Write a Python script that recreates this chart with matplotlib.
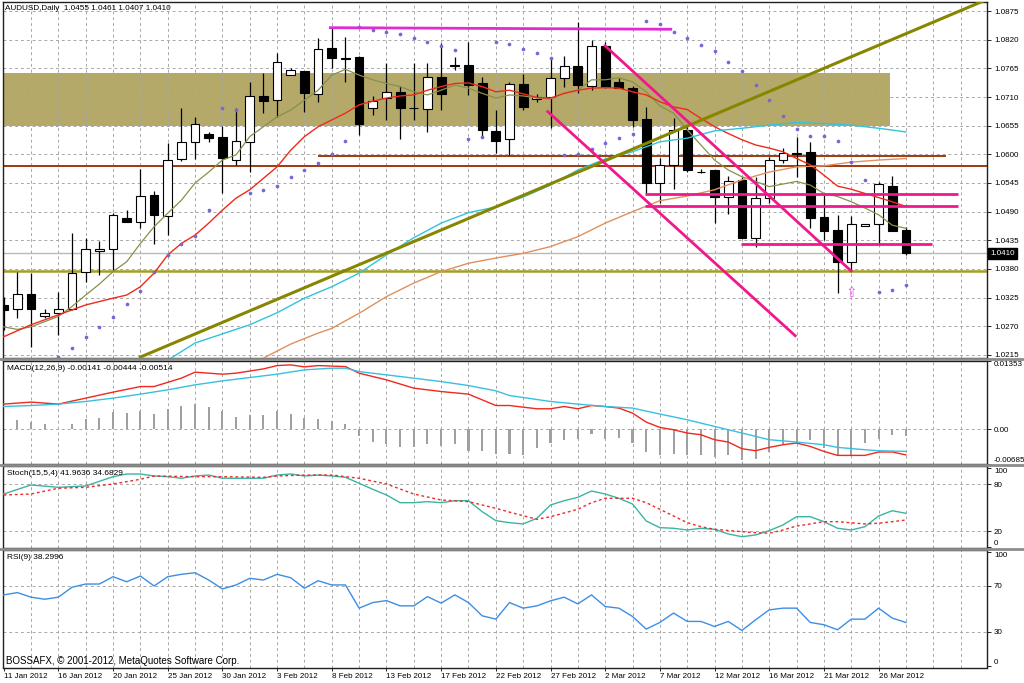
import matplotlib
matplotlib.use('Agg')
import matplotlib.pyplot as plt
import numpy as np
from matplotlib.patches import Rectangle
from matplotlib.lines import Line2D
import matplotlib.transforms as mtransforms

plt.rcParams['font.family'] = ['Liberation Sans', 'DejaVu Sans']
plt.rcParams['font.size'] = 5.8

# AUDUSD daily, 11 Jan - 28 Mar 2012 (broker with Sunday bars -> 67 bars)
opens = [1.0310, 1.0303, 1.0332, 1.0290, 1.0296, 1.0303, 1.0375, 1.0414, 1.0418, 1.0478,
         1.0470, 1.0522, 1.0482, 1.0591, 1.0623, 1.0639, 1.0633, 1.0589, 1.0624, 1.0711,
         1.0704, 1.0752, 1.0760, 1.0716, 1.0804, 1.0785, 1.0787, 1.0689, 1.0708, 1.0720,
         1.0689, 1.0687, 1.0749, 1.0771, 1.0771, 1.0736, 1.0645, 1.0629, 1.0735, 1.0706,
         1.0710, 1.0746, 1.0769, 1.0731, 1.0808, 1.0738, 1.0727, 1.0668, 1.0545, 1.0579,
         1.0647, 1.0567, 1.0570, 1.0518, 1.0551, 1.0440, 1.0516, 1.0589, 1.0602, 1.0604,
         1.0479, 1.0455, 1.0394, 1.0463, 1.0466, 1.0539, 1.0455]
highs = [1.0326, 1.0374, 1.0372, 1.0303, 1.0336, 1.0449, 1.0440, 1.0434, 1.0488, 1.0493,
         1.0571, 1.0530, 1.0622, 1.0688, 1.0671, 1.0643, 1.0654, 1.0688, 1.0739, 1.0757,
         1.0794, 1.0766, 1.0760, 1.0823, 1.0842, 1.0825, 1.0789, 1.0712, 1.0775, 1.0731,
         1.0775, 1.0775, 1.0813, 1.0787, 1.0816, 1.0749, 1.0685, 1.0739, 1.0755, 1.0716,
         1.0787, 1.0789, 1.0854, 1.0820, 1.0816, 1.0746, 1.0731, 1.0691, 1.0593, 1.0669,
         1.0656, 1.0572, 1.0570, 1.0559, 1.0557, 1.0557, 1.0595, 1.0612, 1.0634, 1.0624,
         1.0522, 1.0484, 1.0482, 1.0467, 1.0547, 1.0558, 1.0461]
lows = [1.0263, 1.0286, 1.0230, 1.0286, 1.0253, 1.0302, 1.0355, 1.0369, 1.0378, 1.0470,
        1.0458, 1.0428, 1.0445, 1.0588, 1.0592, 1.0624, 1.0526, 1.0580, 1.0567, 1.0679,
        1.0672, 1.0752, 1.0682, 1.0701, 1.0765, 1.0739, 1.0637, 1.0675, 1.0666, 1.0629,
        1.0666, 1.0643, 1.0685, 1.0762, 1.0714, 1.0634, 1.0603, 1.0599, 1.0685, 1.0700,
        1.0650, 1.0729, 1.0717, 1.0723, 1.0727, 1.0727, 1.0653, 1.0524, 1.0506, 1.0533,
        1.0567, 1.0564, 1.0468, 1.0485, 1.0440, 1.0423, 1.0506, 1.0584, 1.0557, 1.0458,
        1.0436, 1.0334, 1.0378, 1.0462, 1.0426, 1.0453, 1.0407]
closes = [1.0302, 1.0332, 1.0303, 1.0296, 1.0303, 1.0372, 1.0418, 1.0418, 1.0483, 1.0470,
          1.0521, 1.0483, 1.0589, 1.0623, 1.0658, 1.0631, 1.0593, 1.0625, 1.0711, 1.0702,
          1.0777, 1.0762, 1.0717, 1.0802, 1.0785, 1.0783, 1.0658, 1.0702, 1.0720, 1.0689,
          1.0688, 1.0749, 1.0715, 1.0769, 1.0733, 1.0647, 1.0626, 1.0735, 1.0691, 1.0710,
          1.0747, 1.0769, 1.0733, 1.0807, 1.0729, 1.0728, 1.0666, 1.0545, 1.0579, 1.0647,
          1.0570, 1.0566, 1.0519, 1.0549, 1.0440, 1.0516, 1.0589, 1.0602, 1.0601, 1.0477,
          1.0452, 1.0394, 1.0466, 1.0466, 1.0543, 1.0453, 1.0410]

date_labels = ['11 Jan 2012', '16 Jan 2012', '20 Jan 2012', '25 Jan 2012', '30 Jan 2012',
               '3 Feb 2012', '8 Feb 2012', '13 Feb 2012', '17 Feb 2012', '22 Feb 2012',
               '27 Feb 2012', '2 Mar 2012', '7 Mar 2012', '12 Mar 2012', '16 Mar 2012',
               '21 Mar 2012', '26 Mar 2012']
price_ticks = [1.0215, 1.0270, 1.0325, 1.0380, 1.0435, 1.0490, 1.0545,
               1.0600, 1.0655, 1.0710, 1.0765, 1.0820, 1.0875]

# moving averages on price
ma_fast = [1.0269, 1.0264, 1.0269, 1.0279, 1.0289, 1.0308, 1.0330, 1.0351, 1.0375, 1.0394,
           1.0429, 1.0461, 1.0487, 1.0512, 1.0545, 1.0566, 1.0589, 1.0599, 1.0634, 1.0653,
           1.0672, 1.0685, 1.0704, 1.0723, 1.0752, 1.0763, 1.0752, 1.0743, 1.0736, 1.0730,
           1.0720, 1.0714, 1.0723, 1.0733, 1.0727, 1.0717, 1.0708, 1.0714, 1.0712, 1.0708,
           1.0706, 1.0717, 1.0723, 1.0743, 1.0743, 1.0747, 1.0739, 1.0720, 1.0693, 1.0679,
           1.0647, 1.0618, 1.0589, 1.0570, 1.0557, 1.0548, 1.0538, 1.0543, 1.0548, 1.0541,
           1.0525, 1.0519, 1.0509, 1.0497, 1.0484, 1.0464, 1.0458]
ma_red_idx = [0, 2, 4, 6, 8] + list(range(9, 67))
ma_red = [1.0250, 1.0273, 1.0292, 1.0311, 1.0324, 1.0330, 1.0346, 1.0372, 1.0407, 1.0429,
          1.0445, 1.0468, 1.0493, 1.0516, 1.0532, 1.0554, 1.0576, 1.0608, 1.0634, 1.0653,
          1.0666, 1.0679, 1.0695, 1.0702, 1.0708, 1.0712, 1.0714, 1.0723, 1.0730, 1.0736,
          1.0737, 1.0730, 1.0720, 1.0723, 1.0716, 1.0709, 1.0708, 1.0717, 1.0723, 1.0727,
          1.0728, 1.0727, 1.0720, 1.0714, 1.0701, 1.0691, 1.0686, 1.0669, 1.0653, 1.0640,
          1.0628, 1.0618, 1.0612, 1.0605, 1.0592, 1.0580, 1.0560, 1.0539, 1.0533, 1.0525,
          1.0517, 1.0509, 1.0500]
ma_cyan_idx = [12, 14, 18, 20, 22, 24, 26, 28, 30, 32, 34, 36, 38, 40, 42, 44, 46, 48,
               50, 52, 54, 56, 58, 60, 62, 64, 66]
ma_cyan = [1.0205, 1.0238, 1.0273, 1.0296, 1.0324, 1.0346, 1.0372, 1.0407, 1.0440, 1.0468,
           1.0488, 1.0499, 1.0518, 1.0541, 1.0570, 1.0591, 1.0605, 1.0624, 1.0631, 1.0645,
           1.0650, 1.0656, 1.0661, 1.0659, 1.0656, 1.0650, 1.0643]
ma_orange_idx = [19, 21, 23, 24, 26, 28, 30, 32, 34, 36, 38, 40, 42, 44, 46, 48, 50, 52,
                 54, 56, 58, 60, 62, 64, 66]
ma_orange = [1.0209, 1.0236, 1.0257, 1.0266, 1.0295, 1.0327, 1.0353, 1.0375, 1.0391, 1.0401,
             1.0410, 1.0423, 1.0442, 1.0468, 1.0490, 1.0511, 1.0520, 1.0532, 1.0551, 1.0566,
             1.0576, 1.0578, 1.0585, 1.0589, 1.0592]

# parabolic SAR dots (bars 4..66)
sar_idx = list(range(4, 67))
sar = [1.0212, 1.0229, 1.0250, 1.0269, 1.0287, 1.0312, 1.0338, 1.0375, 1.0407, 1.0428,
       1.0443, 1.0493, 1.0688, 1.0686, 1.0526, 1.0532, 1.0540, 1.0556, 1.0570, 1.0584,
       1.0601, 1.0626, 1.0845, 1.0839, 1.0834, 1.0830, 1.0824, 1.0816, 1.0808, 1.0801,
       1.0629, 1.0633, 1.0815, 1.0811, 1.0803, 1.0795, 1.0785, 1.0599, 1.0600, 1.0610,
       1.0622, 1.0631, 1.0639, 1.0856, 1.0850, 1.0835, 1.0823, 1.0810, 1.0798, 1.0778,
       1.0760, 1.0733, 1.0704, 1.0674, 1.0648, 1.0635, 1.0636, 1.0626, 1.0585, 1.0551,
       1.0335, 1.0340, 1.0349]

# drawn objects (bar index / price)
zone_top, zone_bottom, zone_end = 1.0757, 1.0655, 64.8
top_line = ([23.9, 48.8], [1.0843, 1.0840])
trend_up = ([10.0, 60.0], [1.0211, 1.0765])
chan_upper = ([44.0, 62.0], [1.0808, 1.0376])
chan_lower = ([39.8, 57.9], [1.0682, 1.0252])
pink_levels = [(1.0523, 46.9, 69.8), (1.0500, 46.9, 69.8), (1.0428, 53.9, 67.9)]
brown_full = 1.0578
brown_part = (1.0597, 23.0, 68.9)
olive_level = 1.0377
bid = 1.0410
arrow_bar, arrow_price = 62, 1.0334

# MACD
macd_hist = [np.nan, 0.00174, 0.0014, 0.00093, 0.0001, 0.00107, 0.00193, 0.00226, 0.00346, 0.00313,
             0.0036, 0.00306, 0.00393, 0.0046, 0.00493, 0.0044, 0.0036, 0.00246, 0.0028, 0.00273,
             0.0036, 0.00306, 0.00213, 0.00193, 0.0016, 0.00093, -0.0014, -0.00253, -0.00306, -0.0036,
             -0.0036, -0.00293, -0.0034, -0.00306, -0.0044, -0.0044, -0.00506, -0.00506, -0.0052, -0.00373,
             -0.00286, -0.0022, -0.002, -0.00107, -0.002, -0.00187, -0.00286, -0.00466, -0.0052, -0.00506,
             -0.0052, -0.0052, -0.00553, -0.0052, -0.0062, -0.00586, -0.00453, -0.0032, -0.00306, -0.0022,
             -0.00386, -0.0052, -0.0052, -0.00286, -0.002, -0.0012, -0.00141]
macd_red_idx = [0, 2, 4, 6, 8, 10, 11, 13, 14, 16, 17, 19, 20, 21, 22, 23, 25, 26, 28, 30,
                32, 34, 36, 37, 39, 40, 41, 42, 43, 44, 45, 46, 47, 48, 49, 50, 51, 52, 53, 54,
                55, 56, 57, 58, 59, 60, 61, 63, 64, 65, 66]
macd_red = [0.00496, 0.00536, 0.00496, 0.00615, 0.00734, 0.00845, 0.00845, 0.01012, 0.01131, 0.01091,
            0.01111, 0.01196, 0.01262, 0.01276, 0.01236, 0.01262, 0.01242, 0.01111, 0.00978, 0.00813,
            0.00746, 0.00694, 0.00468, 0.00468, 0.00403, 0.00403, 0.00448, 0.00403, 0.00468, 0.00448,
            0.00417, 0.00317, 0.00139, 0.00032, -0.00014, -0.00079, -0.00113, -0.00212, -0.00258, -0.00391,
            -0.00431, -0.00365, -0.00312, -0.00278, -0.00345, -0.00444, -0.00524, -0.00524, -0.00456, -0.00456,
            -0.00514]
macd_cyan_idx = [0, 2, 4, 6, 8, 10, 12, 14, 16, 18, 20, 22, 24, 25, 26, 28, 30, 32, 34, 36,
                 37, 40, 42, 44, 46, 48, 50, 52, 54, 56, 58, 60, 61, 63, 64, 66]
macd_cyan = [0.00448, 0.00468, 0.00496, 0.00548, 0.00615, 0.00694, 0.0078, 0.00879, 0.00958, 0.01024,
             0.01091, 0.01177, 0.0121, 0.0121, 0.01143, 0.01077, 0.01012, 0.00944, 0.00865, 0.0076,
             0.00667, 0.00548, 0.00496, 0.00448, 0.00417, 0.00298, 0.00185, 0.00052, -0.00079, -0.00212,
             -0.00258, -0.00312, -0.00365, -0.00411, -0.00431, -0.00444]

# Stochastic
stoch_main_idx = [0, 2, 4, 6, 8] + list(range(9, 18)) + list(range(19, 67))
stoch_main = [67.3, 78.8, 75.8, 77.5, 89.3,
              92.7, 92.7, 90.2, 89.3, 87.3, 90.2, 91.4, 87.3, 87.3,
              87.3, 91.4, 92.7, 90.2, 91.4, 90.2, 88.5, 80.9, 73.3, 66.1,
              56.3, 56.3, 57.6, 56.3, 58.8, 58.8, 44.9, 33.5, 30.9, 29.3,
              36.5, 53.4, 58.8, 63.1, 71.1, 67.3, 61.9, 54.6, 33.1, 24.6,
              23.8, 21.6, 23.8, 22.5, 16.6, 13.1, 15.3, 20.8, 28.0, 38.5,
              38.5, 32.2, 23.8, 21.6, 25.8, 39.4, 46.1, 42.8]
stoch_sig_idx = [0, 2, 4, 6, 8, 10, 11, 14, 16, 19, 20, 22, 24, 26, 28, 30, 32, 34, 36, 37,
                 39, 40, 42, 43, 44, 46, 47, 48, 50, 51, 52, 54, 55, 56, 57, 58, 59, 60, 61, 63,
                 64, 65, 66]
stoch_sig = [66.1, 67.3, 74.6, 75.8, 80.0, 86.0, 90.2, 89.3, 89.3, 88.5, 90.2, 91.4, 91.4, 87.3,
             80.0, 67.3, 59.7, 57.6, 49.2, 44.3, 35.2, 38.5, 47.9, 56.3, 61.9, 61.9, 56.3, 47.9,
             30.9, 25.8, 22.5, 19.5, 18.2, 17.5, 21.6, 26.7, 29.3, 32.2, 32.2, 29.3, 30.2, 32.2, 34.3]

# RSI(9)
rsi = [62.2, 64.2, 60.2, 58.4, 60.2, 68.9, 71.7, 71.7, 78.1, 73.7,
       78.7, 70.0, 78.1, 80.2, 81.6, 75.2, 67.4, 70.9, 76.7, 75.2,
       80.2, 77.2, 68.0, 74.6, 70.9, 70.9, 50.6, 55.5, 57.2, 52.6,
       52.6, 60.7, 55.0, 62.2, 55.5, 43.9, 41.0, 55.5, 50.6, 52.6,
       57.0, 60.2, 54.3, 62.2, 52.0, 50.6, 43.3, 32.3, 38.1, 46.3,
       39.0, 39.0, 34.6, 39.0, 31.1, 40.4, 49.1, 50.6, 50.6, 38.1,
       36.1, 31.7, 41.0, 41.0, 50.6, 41.9, 38.1]

n = len(closes)
x = np.arange(n)
W, H = 1024, 683
fig = plt.figure(figsize=(W / 100, H / 100), dpi=100)
fig.patch.set_facecolor('white')

def px_axes(top, bottom):
    return fig.add_axes([3 / W, 1 - bottom / H, 984 / W, (bottom - top) / H])

ax = px_axes(2, 358)
ax_m = px_axes(361, 463.5)
ax_s = px_axes(465.5, 547.5)
ax_r = px_axes(549.5, 667.5)
axes = [ax, ax_m, ax_s, ax_r]

grid_kw = dict(color='#a8a8a8', lw=0.7, ls=(0, (3, 3)), zorder=1)
for a in axes:
    a.set_xlim(-0.05, 71.93)
    a.set_facecolor('white')
    for s in a.spines.values():
        s.set_color('#202020')
        s.set_linewidth(1.0)
    a.yaxis.tick_right()
    a.tick_params(axis='y', direction='out', length=3, width=0.6, pad=2, labelsize=5.8)
    for b in range(2, 72, 2):
        a.axvline(b, **grid_kw)
    a.set_xticks([])

# ---- price panel
ax.set_ylim(1.02092, 1.08923)
ax.set_yticks(price_ticks)
ax.set_yticklabels(['%.4f' % p for p in price_ticks])
for p in price_ticks:
    ax.axhline(p, **grid_kw)

ax.add_patch(Rectangle((-1, zone_bottom), zone_end + 1, zone_top - zone_bottom,
                       facecolor='#b5a96a', edgecolor='none', zorder=0.5))

ax.axhline(brown_full, color='#9c3a12', lw=1.4, zorder=2)
ax.hlines(brown_part[0], brown_part[1], brown_part[2], color='#9c3a12', lw=1.4, zorder=2)
ax.axhline(olive_level, color='#a3a020', lw=1.8, zorder=2)
ax.axhline(bid, color='#b8b8b8', lw=1.0, zorder=2)

o = np.array(opens); c = np.array(closes)
ax.vlines(x, lows, highs, color='black', lw=0.9, zorder=3)
body_lo = np.minimum(o, c)
body_h = np.maximum(np.abs(c - o), 0.00003)
face = ['white' if cc >= oo else 'black' for oo, cc in zip(o, c)]
ax.bar(x, body_h, bottom=body_lo, width=0.64, color=face, edgecolor='black',
       linewidth=0.8, zorder=4)

ax.plot(x, ma_fast, color='#86904a', lw=0.9, zorder=5)
ax.plot(ma_red_idx, ma_red, color='#f02a1a', lw=1.0, zorder=5)
ax.plot(ma_cyan_idx, ma_cyan, color='#30c4dc', lw=1.0, zorder=5)
ax.plot(ma_orange_idx, ma_orange, color='#e0905c', lw=1.0, zorder=5)
ax.scatter(sar_idx, sar, s=7, color='#7468d6', zorder=6, linewidths=0)

ax.plot(*top_line, color='#e02ad4', lw=2.0, zorder=6)
slope = (trend_up[1][1] - trend_up[1][0]) / (trend_up[0][1] - trend_up[0][0])
ax.plot(trend_up[0] + [73], trend_up[1] + [trend_up[1][0] + (73 - trend_up[0][0]) * slope],
        color='#868600', lw=2.2, zorder=6)
ax.plot(*chan_upper, color='#f0188c', lw=2.0, zorder=6)
ax.plot(*chan_lower, color='#f0188c', lw=2.0, zorder=6)
for lvl, x0, x1 in pink_levels:
    ax.hlines(lvl, x0, x1, color='#f0188c', lw=2.0, zorder=6)
ax.text(arrow_bar, arrow_price, '\u21e7', color='#e066e0', fontsize=10,
        ha='center', va='center', family='DejaVu Sans', zorder=7)

ax.text(0.002, 0.992, 'AUDUSD,Daily  %.4f %.4f %.4f %.4f' % (opens[-1], highs[-1], lows[-1], closes[-1]),
        transform=ax.transAxes, ha='left', va='top', fontsize=5.9, color='black', zorder=8)
trans = mtransforms.blended_transform_factory(ax.transAxes, ax.transData)
ax.text(1.0035, bid, '%.4f' % bid, transform=trans, ha='left', va='center', color='white',
        fontsize=5.8, clip_on=False,
        bbox=dict(boxstyle='square,pad=0.25', facecolor='black', edgecolor='black'))

# ---- MACD panel
ax_m.set_ylim(-0.00685, 0.01353)
ax_m.axhline(0, **grid_kw)
ax_m.bar(x, macd_hist, width=0.15, color='#a0a0a0', zorder=2)
ax_m.plot(macd_red_idx, macd_red, color='#f0281e', lw=1.0, zorder=3)
ax_m.plot(macd_cyan_idx, macd_cyan, color='#38c0e0', lw=1.0, zorder=3)
ax_m.set_yticks([-0.00685, 0.0, 0.01353])
ax_m.set_yticklabels(['-0.00685', '0.00', '0.01353'])
ax_m.text(0.004, 0.96, 'MACD(12,26,9) -0.00141 -0.00444 -0.00514', transform=ax_m.transAxes,
          ha='left', va='top', fontsize=6.0)

# ---- Stochastic panel
ax_s.set_ylim(-0.6, 103.5)
for lv in (20, 80):
    ax_s.axhline(lv, **grid_kw)
ax_s.plot(stoch_main_idx, stoch_main, color='#3cb4a0', lw=1.0, zorder=3)
ax_s.plot(stoch_sig_idx, stoch_sig, color='#f02828', lw=1.0, ls=(0, (2, 2)), zorder=3)
ax_s.set_yticks([0, 20, 80, 100])
ax_s.set_yticklabels(['0', '20', '80', '100'])
ax_s.text(0.004, 0.95, 'Stoch(15,5,4) 41.9636 34.6829', transform=ax_s.transAxes,
          ha='left', va='top', fontsize=6.0)

# ---- RSI panel
ax_r.set_ylim(-1.3, 101.9)
for lv in (30, 70):
    ax_r.axhline(lv, **grid_kw)
ax_r.plot(x, rsi, color='#3c8ee6', lw=1.0, zorder=3)
ax_r.set_yticks([0, 30, 70, 100])
ax_r.set_yticklabels(['0', '30', '70', '100'])
ax_r.text(0.004, 0.965, 'RSI(9) 38.2996', transform=ax_r.transAxes,
          ha='left', va='top', fontsize=6.0)
ax_r.text(0.003, 0.015, 'BOSSAFX, \u00a9 2001-2012, MetaQuotes Software Corp.',
          transform=ax_r.transAxes, ha='left', va='bottom', fontsize=7.0)
ax_r.set_xticks(np.arange(0, 4 * len(date_labels), 4))
ax_r.set_xticklabels(date_labels, fontsize=5.8)
ax_r.tick_params(axis='x', length=2, width=0.6, pad=2)
for lab in ax_r.get_xticklabels():
    lab.set_horizontalalignment('left')

# keep edge labels inside their panels like the terminal does
for a in (ax_m, ax_s, ax_r):
    labs = a.get_yticklabels()
    labs[0].set_verticalalignment('bottom')
    labs[-1].set_verticalalignment('top')

# gray separators between sub-windows
for ypx in (359.5, 464.5, 548.5):
    fig.add_artist(Line2D([0, 1], [1 - ypx / H] * 2, transform=fig.transFigure,
                          color='#8c8c8c', lw=2.0))

fig.savefig('out.png', dpi=100, facecolor='white')
